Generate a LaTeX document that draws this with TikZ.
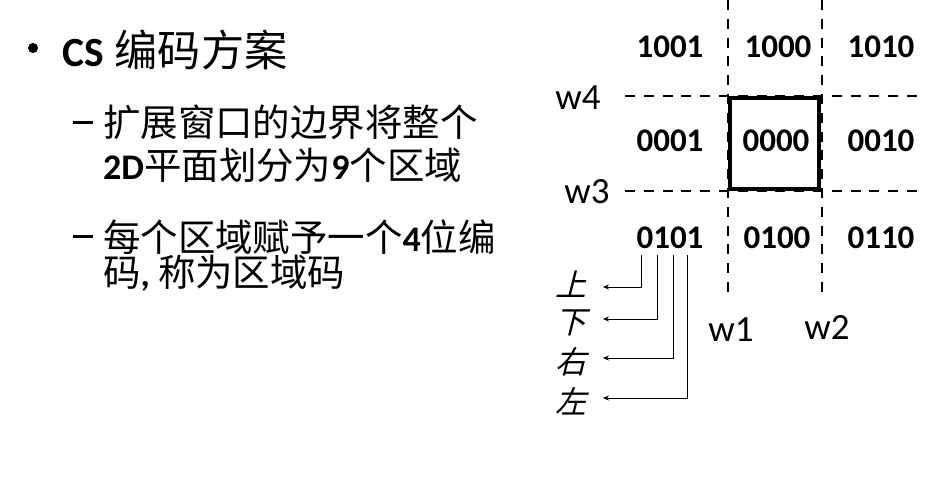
\documentclass[tikz,border=0pt]{standalone}
\usepackage{fontspec}
\setmainfont{Carlito}
\newfontfamily\cjk[Scale=1.04]{Noto Sans CJK SC}
\newfontfamily\cjkit[FakeSlant=0.25]{Noto Sans CJK SC}
\usetikzlibrary{arrows.meta}
\begin{document}
\begin{tikzpicture}[x=1pt,y=-1pt,
  dashln/.style={line width=2pt, dash pattern=on 10pt off 8.8pt},
  code/.style={font=\fontsize{33}{36}\selectfont\bfseries, inner sep=0pt},
  wlab/.style={font=\fontsize{37}{40}\selectfont, inner sep=0pt},
  dirlab/.style={font=\fontsize{31}{36}\selectfont\cjkit, inner sep=0pt},
  lvlone/.style={font=\fontsize{41.5}{44}\selectfont, inner sep=0pt, anchor=west},
  lvltwo/.style={font=\fontsize{36}{40}\selectfont, inner sep=0pt, anchor=west},
  conn/.style={line width=0.8pt, -{Stealth[length=6pt,width=5pt]}}]
\useasboundingbox (0,0) rectangle (938,497);
% left text
\node[circle, fill=black, inner sep=0pt, minimum size=10pt] (bul) at (33,48) {};
\node[lvlone] (t1) at (62,50) {\textbf{CS}\hspace{11pt}{\cjk 编码方案}};
\node[fill=black, inner sep=0pt, minimum width=20pt, minimum height=3pt] (d1) at (83,123) {};
\node[lvltwo] (t2) at (103,122) {{\cjk 扩展窗口的边界将整个}};
\node[lvltwo] (t3) at (103,165) {\textbf{2D}{\cjk 平面划分为}\textbf{9}{\cjk 个区域}};
\node[fill=black, inner sep=0pt, minimum width=20pt, minimum height=3pt] (d2) at (83,237) {};
\node[lvltwo] (t4) at (103,237) {{\cjk 每个区域赋予一个}\textbf{4}{\cjk 位编}};
\node[lvltwo] (t5) at (103,273) {{\cjk 码}\textbf{,} {\cjk 称为区域码}};
% grid
\coordinate (v1t) at (728,0); \coordinate (v1b) at (728,294);
\coordinate (v2t) at (822,0); \coordinate (v2b) at (822,294);
\coordinate (h1l) at (625,96); \coordinate (h1r) at (917,96);
\coordinate (h2l) at (625,191); \coordinate (h2r) at (917,191);
\draw[dashln] (v1t) -- (v1b);
\draw[dashln] (v2t) -- (v2b);
\draw[dashln] (h1l) -- (h1r);
\draw[dashln] (h2l) -- (h2r);
\draw[line width=4pt] (730,98) rectangle (819,189);
% codes
\node[code] (c1001) at (670,47) {1001};
\node[code] (c1000) at (778,47) {1000};
\node[code] (c1010) at (881,47) {1010};
\node[code] (c0001) at (670,141) {0001};
\node[code] (c0000) at (776,141) {0000};
\node[code] (c0010) at (881,141) {0010};
\node[code] (c0101) at (670,238) {0101};
\node[code] (c0100) at (777,238) {0100};
\node[code] (c0110) at (881,238) {0110};
% w labels
\node[wlab] (w4) at (578,98) {w4};
\node[wlab] (w3) at (587,192) {w3};
\node[wlab] (w1) at (731,330) {w1};
\node[wlab] (w2) at (827,327) {w2};
% direction labels
\node[dirlab] (up) at (571,284) {上};
\node[dirlab] (down) at (571,323) {下};
\node[dirlab] (right) at (571,362) {右};
\node[dirlab] (left) at (571,401) {左};
\coordinate (b1) at (641,255); \coordinate (a1) at (603,287);
\coordinate (b2) at (657,255); \coordinate (a2) at (603,319);
\coordinate (b3) at (673,255); \coordinate (a3) at (603,358);
\coordinate (b4) at (687,255); \coordinate (a4) at (603,398);
\draw[conn] (b1) |- (a1);
\draw[conn] (b2) |- (a2);
\draw[conn] (b3) |- (a3);
\draw[conn] (b4) |- (a4);
\end{tikzpicture}
\end{document}
